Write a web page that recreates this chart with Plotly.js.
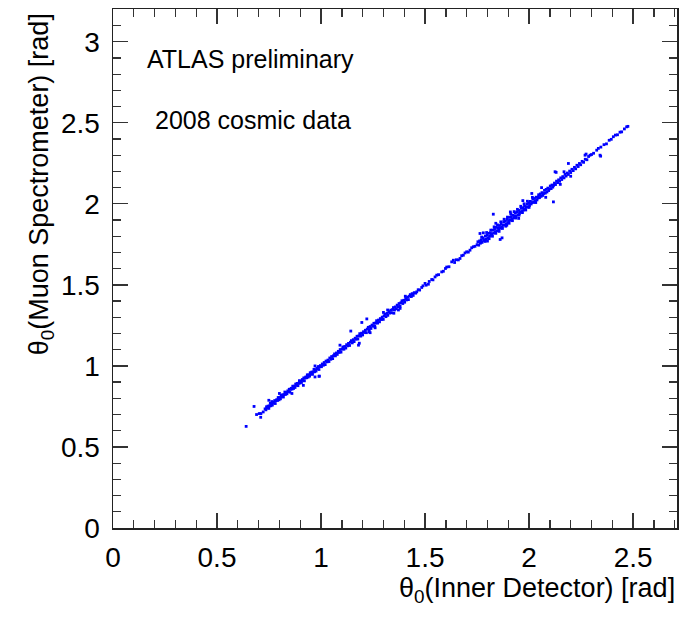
<!DOCTYPE html>
<html>
<head>
<meta charset="utf-8">
<script src="https://cdn.plot.ly/plotly-3.0.1.min.js"></script>
<style>html,body{margin:0;padding:0;background:#fff;}#chart{width:686px;height:620px;}</style>
</head>
<body>
<div id="chart"></div>
<script>
// θ0 (Inner Detector) and θ0 (Muon Spectrometer), by region
const idA = [0.640,0.678,0.690,0.703,0.711,0.710,0.722];
const msA = [0.627,0.750,0.700,0.706,0.706,0.683,0.716];

const idB = [0.731,0.735,0.738,0.742,0.745,0.749,0.752,0.756,0.759,0.763,0.766,0.770,0.773,0.777,0.780,0.784,0.787,0.791,0.794,0.798,
0.801,0.805,0.808,0.812,0.815,0.819,0.822,0.826,0.829,0.833,0.836,0.840,0.843,0.847,0.850,0.854,0.857,0.861,0.864,0.868,
0.871,0.875,0.878,0.882,0.885,0.889,0.892,0.896,0.899,0.903,0.906,0.910,0.913,0.917,0.920,0.924,0.927,0.931,0.934,0.938,
0.941,0.945,0.948,0.952,0.955,0.959,0.962,0.966,0.969,0.973,0.976,0.980,0.983,0.987,0.990,0.994,0.997,
0.749,0.763,0.915,0.992,0.971,0.860,0.800,0.971,0.990];
const msB = [0.735,0.729,0.748,0.740,0.752,0.738,0.753,0.769,0.754,0.766,0.758,0.776,0.772,0.786,0.768,0.786,0.792,0.787,0.805,0.791,
0.805,0.797,0.818,0.810,0.822,0.808,0.823,0.839,0.824,0.836,0.828,0.846,0.842,0.856,0.838,0.856,0.862,0.857,0.875,0.861,
0.875,0.867,0.888,0.880,0.892,0.878,0.893,0.909,0.894,0.906,0.898,0.916,0.912,0.926,0.908,0.926,0.932,0.927,0.945,0.931,
0.945,0.937,0.958,0.950,0.962,0.948,0.963,0.979,0.964,0.976,0.968,0.986,0.982,0.996,0.978,0.996,1.002,
0.788,0.780,0.880,0.937,1.000,0.830,0.830,0.932,0.936];

const idC = [1.002,1.006,1.011,1.015,1.020,1.024,1.029,1.033,1.038,1.042,1.047,1.051,1.056,1.060,1.065,1.069,1.074,1.078,1.083,1.087,
1.092,1.096,1.101,1.105,1.110,1.114,1.119,1.123,1.128,1.132,1.137,1.141,1.146,1.150,1.155,1.159,1.164,1.168,1.173,1.177,
1.182,1.186,1.191,1.195,1.200,1.204,1.209,1.213,1.218,1.222,1.227,1.231,1.236,1.240,1.245,1.249,1.254,1.258,1.263,1.267,
1.272,1.276,1.281,1.285,1.290,1.294,1.299,1.303,1.308,1.312,1.317,1.321,1.326,1.330,1.335,1.339,1.344,1.348,1.353,1.357,
1.362,1.366,1.371,1.375,1.380,1.384,1.389,1.393,1.398,1.402,1.407,1.411,1.416,1.420,1.425,1.429,1.434,1.438,1.443,
1.091,1.143,1.180,1.196,1.220,1.184,1.232,1.236,1.372,1.300,1.260,1.320,1.350,1.405,1.380];
const msC = [0.995,1.012,1.004,1.021,1.008,1.030,1.025,1.036,1.027,1.049,1.041,1.058,1.045,1.063,1.074,1.062,1.080,1.071,1.090,1.083,
1.101,1.085,1.104,1.117,1.103,1.120,1.110,1.131,1.124,1.139,1.126,1.146,1.156,1.142,1.162,1.150,1.171,1.165,1.183,1.166,
1.185,1.199,1.184,1.202,1.191,1.211,1.206,1.220,1.205,1.227,1.238,1.224,1.243,1.231,1.252,1.245,1.263,1.246,1.265,1.279,
1.264,1.283,1.272,1.292,1.286,1.301,1.287,1.309,1.319,1.304,1.324,1.312,1.335,1.326,1.344,1.328,1.348,1.360,1.345,1.364,
1.352,1.375,1.366,1.385,1.368,1.390,1.402,1.385,1.405,1.393,1.416,1.407,1.425,1.409,1.430,1.440,1.428,1.446,1.435,
1.128,1.215,1.128,1.268,1.290,1.140,1.210,1.205,1.345,1.330,1.235,1.345,1.325,1.430,1.355];

const idD = [1.448,1.455,1.460,1.467,1.474,1.484,1.490,1.500,1.505,1.516,1.520,1.532,1.538,1.548,1.556,1.565,1.580,1.588,1.598,1.604,
1.615,1.628,1.636,1.642,1.650,1.660,1.668,1.676,1.684,1.692,1.700,1.708,1.716,1.724,1.732,1.740];
const msD = [1.452,1.449,1.457,1.470,1.468,1.484,1.494,1.509,1.498,1.504,1.521,1.533,1.531,1.549,1.560,1.563,1.580,1.584,1.601,1.610,
1.612,1.642,1.652,1.638,1.655,1.654,1.663,1.680,1.683,1.697,1.704,1.702,1.714,1.729,1.735,1.738];

const idE = [1.750,1.754,1.758,1.762,1.766,1.770,1.774,1.778,1.782,1.786,1.790,1.794,1.798,1.802,1.806,1.810,1.814,1.818,1.822,1.826,
1.830,1.834,1.838,1.842,1.846,1.850,1.854,1.858,1.862,1.866,1.870,1.874,1.878,1.882,1.886,1.890,1.894,1.898,1.902,1.906,
1.910,1.914,1.918,1.922,1.926,1.930,1.934,1.938,1.942,1.946,1.950,1.954,1.958,1.962,1.966,1.970,1.974,1.978,1.982,1.986,
1.990,1.994,1.998,2.002,2.006,2.010,2.014,2.018,2.022,2.026,2.030,2.034,2.038,2.042,2.046,2.050,2.054,2.058,2.062,2.066,
2.070,2.074,2.078,2.082,2.086,2.090,2.094,2.098,2.102,2.106,2.110,2.114,2.118,
1.772,1.788,1.796,1.808,1.816,1.824,1.832,1.840,1.848,1.856,1.864,1.872,1.880,1.888,1.896,1.904,1.912,1.920,1.928,1.936,
1.944,1.952,1.960,1.968,1.976,1.984,1.992,2.000,2.016,2.032,
1.764,1.780,1.800,1.828,1.861,1.870,1.893,1.840,1.910,1.950,1.970,2.013,2.029,2.045,2.060,2.080,2.117];
const msE = [1.748,1.766,1.745,1.771,1.757,1.778,1.762,1.790,1.774,1.779,1.801,1.782,1.806,1.789,1.818,1.800,1.822,1.806,1.815,1.838,
1.820,1.842,1.825,1.855,1.834,1.852,1.841,1.866,1.849,1.877,1.858,1.868,1.890,1.870,1.893,1.876,1.904,1.884,1.897,1.916,
1.898,1.921,1.905,1.930,1.914,1.926,1.945,1.924,1.950,1.932,1.959,1.941,1.951,1.972,1.953,1.976,1.962,1.986,1.968,1.981,
1.998,1.980,2.006,1.990,2.015,1.999,2.008,2.028,2.009,2.033,2.017,2.041,2.024,2.036,2.056,2.038,2.061,2.046,2.069,2.052,
2.064,2.083,2.066,2.089,2.073,2.097,2.082,2.092,2.110,2.094,2.116,2.103,2.114,
1.795,1.768,1.823,1.785,1.838,1.800,1.858,1.818,1.870,1.830,1.889,1.848,1.905,1.862,1.918,1.880,1.938,1.896,1.952,1.912,
1.966,1.930,1.985,1.946,2.000,1.962,2.016,1.978,2.040,2.008,
1.817,1.821,1.770,1.936,1.780,1.790,1.868,1.880,1.950,1.910,2.020,2.064,2.012,2.043,2.100,2.040,2.012];

const idF = [2.122,2.127,2.132,2.137,2.142,2.147,2.152,2.157,2.162,2.168,2.173,2.178,2.184,2.189,2.195,2.200,2.206,2.212,2.218,2.224,
2.230,2.236,2.242,2.248,2.255,2.262,2.270,2.278,2.286,2.300,2.310,2.325,2.333,2.345,2.360,2.372,2.385,2.395,2.405,2.415,
2.425,2.437,2.445,2.458,2.469,2.475,
2.125,2.130,2.168,2.189,2.269,2.274,2.293,2.341,2.344,2.150,2.200];
const msF = [2.128,2.119,2.140,2.131,2.148,2.139,2.160,2.150,2.168,2.160,2.182,2.171,2.190,2.181,2.202,2.193,2.213,2.205,2.225,2.216,
2.238,2.230,2.249,2.241,2.262,2.256,2.275,2.272,2.292,2.304,2.312,2.331,2.342,2.350,2.365,2.370,2.392,2.398,2.414,2.424,
2.426,2.442,2.444,2.462,2.475,2.478,
2.198,2.194,2.198,2.249,2.300,2.307,2.300,2.300,2.294,2.120,2.170];

const thetaID = [].concat(idA, idB, idC, idD, idE, idF);
const thetaMS = [].concat(msA, msB, msC, msD, msE, msF);

const xTitle = "θ<sub>0</sub>(Inner Detector) [rad]";
const yTitle = "θ<sub>0</sub>(Muon Spectrometer) [rad]";
const label1 = "ATLAS preliminary";
const label2 = "2008 cosmic data";

const FONT = "Liberation Sans, Arial, Helvetica, sans-serif";
const axisCommon = {
  showgrid: false, zeroline: false, showline: true, linecolor: '#222', linewidth: 1.5,
  mirror: 'ticks', ticks: 'inside', ticklen: 15, tickwidth: 1.3, tickcolor: '#333',
  dtick: 0.5, tick0: 0,
  minor: {dtick: 0.1, ticks: 'inside', ticklen: 8, tickwidth: 1.3, tickcolor: '#333', showgrid: false},
  tickfont: {family: FONT, size: 28, color: '#000'},
  fixedrange: true
};

const data = [{
  type: 'scatter', mode: 'markers', x: thetaID, y: thetaMS,
  marker: {symbol: 'square', size: 2.8, color: '#0000ff', line: {width: 0}},
  hoverinfo: 'skip'
}];

const layout = {
  width: 686, height: 620,
  margin: {l: 113, r: 9, t: 9, b: 92},
  paper_bgcolor: '#fff', plot_bgcolor: '#fff',
  showlegend: false,
  xaxis: Object.assign({}, axisCommon, {range: [0, 2.711], ticklabelstandoff: 4}),
  yaxis: Object.assign({}, axisCommon, {range: [0, 3.202], ticklabelstandoff: 6}),
  annotations: [
    {text: xTitle, xref: 'paper', yref: 'paper', x: 1, y: -0.119, xanchor: 'right', yanchor: 'middle',
     showarrow: false, font: {family: FONT, size: 27, color: '#000'}},
    {text: yTitle, xref: 'paper', yref: 'paper', x: -0.161, y: 0.996, xanchor: 'left', yanchor: 'top',
     textangle: -90, showarrow: false, font: {family: FONT, size: 27, color: '#000'}},
    {text: label1, xref: 'paper', yref: 'paper', x: 0.057, y: 0.903, xanchor: 'left', yanchor: 'middle',
     showarrow: false, font: {family: FONT, size: 25, color: '#000'}},
    {text: label2, xref: 'paper', yref: 'paper', x: 0.071, y: 0.787, xanchor: 'left', yanchor: 'middle',
     showarrow: false, font: {family: FONT, size: 25, color: '#000'}}
  ]
};

Plotly.newPlot('chart', data, layout, {staticPlot: true, displayModeBar: false});
</script>
</body>
</html>
